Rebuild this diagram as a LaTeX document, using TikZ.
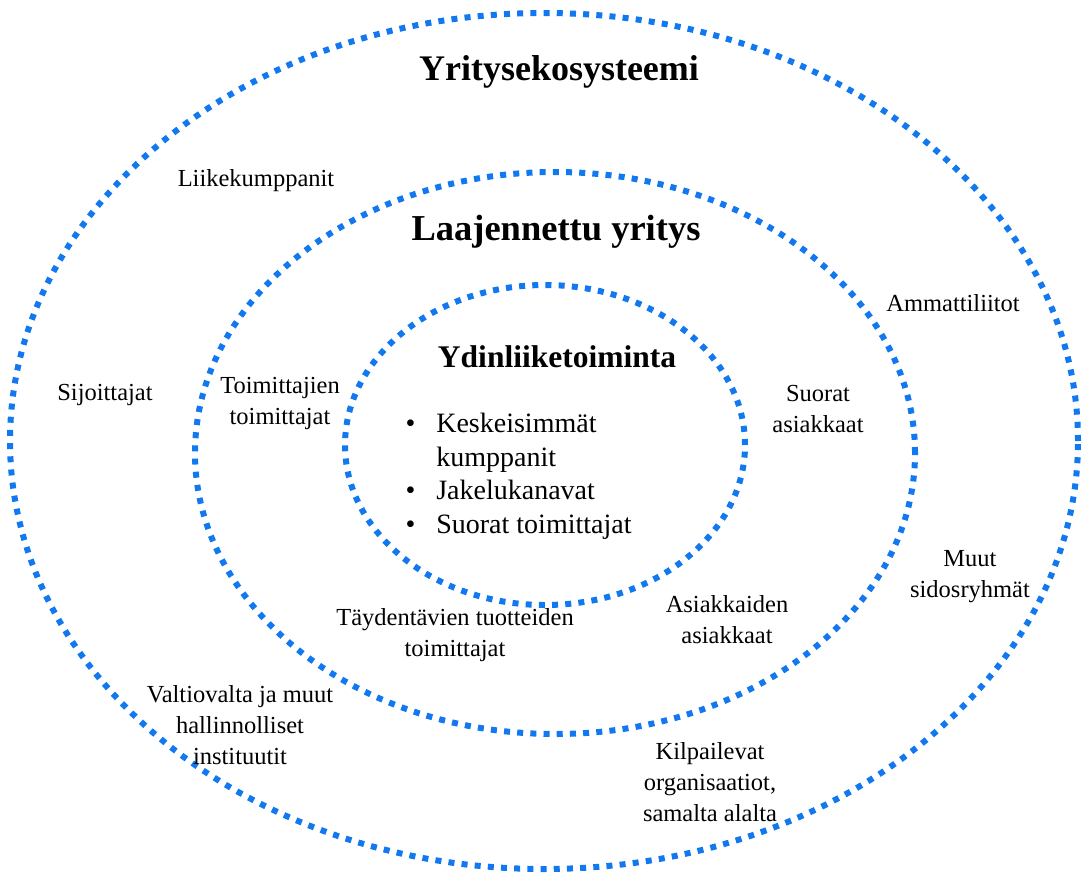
\documentclass[tikz,border=0pt]{standalone}
\usepackage{fontspec}
\setmainfont{Liberation Serif}
\usepackage{xcolor}
\usepackage{tikz}
\usetikzlibrary{positioning}
\definecolor{pistesini}{RGB}{18,120,240}
\tikzset{
  rengas/.style={pistesini, line width=6pt, dash pattern=on 6pt off 7.2pt},
  otsikko/.style={font=\bfseries\fontsize{36}{40}\selectfont},
  ryhma/.style={font=\fontsize{24.5}{31}\selectfont, align=center}
}

\begin{document}
\begin{tikzpicture}[x=1pt, y=-1pt]
    \useasboundingbox (0,0) rectangle (1083,879);
    % rings
    \draw[rengas] (544,441) ellipse [x radius=534pt, y radius=428pt];
    \draw[rengas] (555,453) ellipse [x radius=360pt, y radius=281pt];
    \draw[rengas] (545,445) ellipse [x radius=200pt, y radius=160pt];
    % titles
    \node[otsikko] (eko) at (559,72) {Yritysekosysteemi};
    \node[otsikko, font=\bfseries\fontsize{36.5}{40}\selectfont] (laaj) at (556,232) {Laajennettu yritys};
    \node[otsikko, font=\bfseries\fontsize{31.5}{36}\selectfont] (ydin) at (557,357) {Ydinliiketoiminta};
    % core list
    \node[ryhma, align=left, anchor=north west, font=\fontsize{28}{33.8}\selectfont] (lista) at (402,405)
      {\begin{tabular}{@{}l@{\hspace{21pt}}l@{}}
       \textbullet & Keskeisimmät\\
                   & kumppanit\\
       \textbullet & Jakelukanavat\\
       \textbullet & Suorat toimittajat
       \end{tabular}};
    % extended enterprise
    \node[ryhma] (toim) at (280,403) {Toimittajien\\toimittajat};
    \node[ryhma] (suor) at (818,409) {Suorat\\asiakkaat};
    \node[ryhma] (asi) at (727,620) {Asiakkaiden\\asiakkaat};
    \node[ryhma] (tayd) at (455,635) {Täydentävien tuotteiden\\toimittajat};
    % ecosystem
    \node[ryhma] (liike) at (256,181) {Liikekumppanit};
    \node[ryhma] (amm) at (953,303) {Ammattiliitot};
    \node[ryhma] (sij) at (105,395) {Sijoittajat};
    \node[ryhma] (muut) at (970,577) {Muut\\sidosryhmät};
    \node[ryhma] (valt) at (240,725) {Valtiovalta ja muut\\hallinnolliset\\instituutit};
    \node[ryhma] (kilp) at (710,782) {Kilpailevat\\organisaatiot,\\samalta alalta};
\end{tikzpicture}
\end{document}
